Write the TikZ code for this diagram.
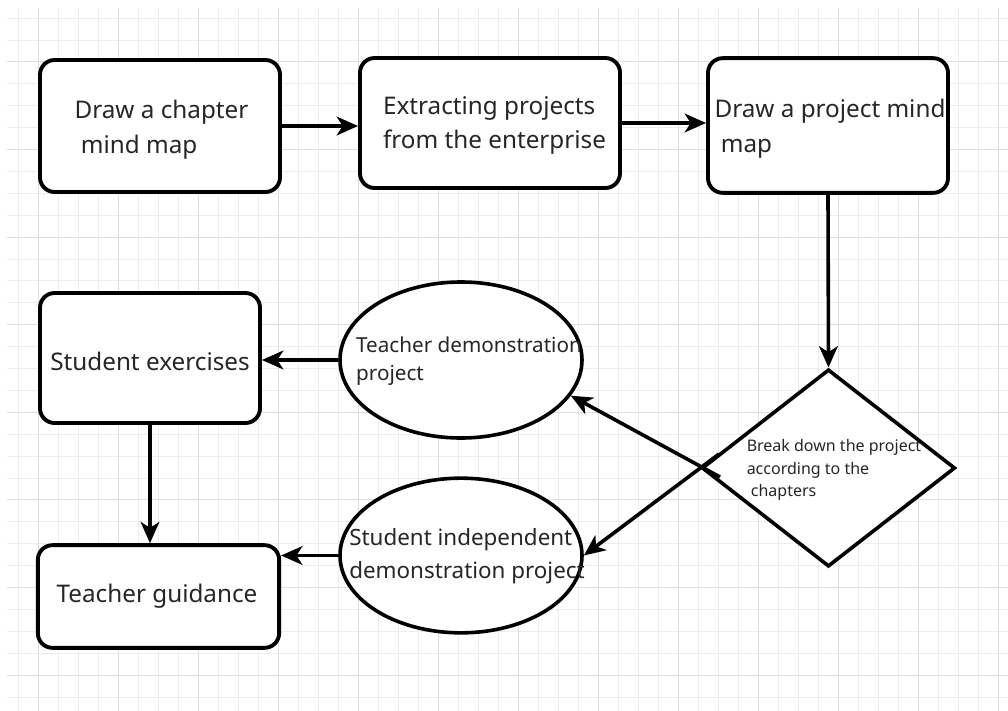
\documentclass[tikz,border=0pt]{standalone}
\usepackage{fontspec}
\setmainfont{Noto Sans}
\usetikzlibrary{shapes.geometric,arrows.meta}

\tikzset{
  gridminor/.style={gray!14, line width=0.75pt},
  gridmajor/.style={gray!26, line width=0.75pt},
  box/.style={draw, line width=2.9pt, rounded corners=11pt, fill=white},
  oval/.style={draw, ellipse, line width=2.7pt, fill=white},
  decision/.style={draw, diamond, line width=2.7pt, fill=white, inner sep=0pt},
  boxtext/.style={align=left, inner sep=0pt, text=black!85, font=\fontsize{18.2}{26}\selectfont},
  ovaltext/.style={align=left, inner sep=0pt, text=black!85, font=\fontsize{15.5}{21.5}\selectfont},
  bigovaltext/.style={ovaltext, font=\fontsize{16.8}{24.5}\selectfont},
  smalltext/.style={align=left, inner sep=0pt, text=black!85, font=\fontsize{12}{17}\selectfont},
  flow/.style={->, line width=2.7pt},
}

\begin{document}
\begin{tikzpicture}[x=0.75pt, y=-0.75pt, >={Stealth[length=16pt,width=14pt,inset=4.5pt]}]

\useasboundingbox[fill=white] (0,0) rectangle (1008,711);

% Background grid
\foreach \gx in {18,38,...,998}
  \draw[gridminor] (\gx,8) -- (\gx,711);
\foreach \k in {0,...,31}
  \draw[gridminor] (7,{18.1+21.9*\k}) -- (1008,{18.1+21.9*\k});
\foreach \gx in {38,118,...,998}
  \draw[gridmajor] (\gx,8) -- (\gx,711);
\foreach \k in {2,6,...,30}
  \draw[gridmajor] (7,{18.1+21.9*\k}) -- (1008,{18.1+21.9*\k});

% Top row
\node[box, minimum width=180pt, minimum height=99pt] (b1) at (160,126) {};
\node[box, minimum width=195pt, minimum height=97.5pt] (b2) at (490,123) {};
\node[box, minimum width=180pt, minimum height=101pt] (b3) at (828,125.5) {};

% Decision and ovals
\node[decision, minimum width=190pt, minimum height=148pt] (d) at (828.5,468) {};
\node[oval, minimum width=181.5pt, minimum height=117pt] (e1) at (461,360) {};
\node[oval, minimum width=181.5pt, minimum height=116pt] (e2) at (461,555.5) {};

% Left column
\node[box, minimum width=165pt, minimum height=97.5pt] (b4) at (150,358) {};
\node[box, minimum width=181pt, minimum height=77pt] (b5) at (158.5,596.5) {};

% Texts
\node[boxtext] (t1) at (161.5,130) {Draw a chapter\\\ mind map};
\node[boxtext] (t2) at (494.5,125.5) {Extracting projects\\from the enterprise};
\node[boxtext] (t3) at (830,128.5) {Draw a project mind\\\ map};
\node[boxtext] (t4) at (150,361) {Student exercises};
\node[boxtext] (t5) at (157,596) {Teacher guidance};
\node[ovaltext] (te1) at (469,361) {Teacher demonstration\\project};
\node[bigovaltext] (te2) at (467,556) {Student independent\\demonstration project};
\node[smalltext] (td) at (834,470) {Break down the project\\according to the\\\ chapters};

% Arrow start points inside the diamond
\coordinate (s1) at (720,477);
\coordinate (s2) at (719,454);

% Arrows
\draw[flow] (b1.east) -- (b1.east -| b2.west);
\draw[flow] (b2.east) -- (b2.east -| b3.west);
\draw[flow] (b3.south) -- (d.north);
\draw[flow] (s1) -- (e1.-18);
\draw[flow] (s2) -- (e2.east);
\draw[flow] (e1.west) -- (e1.west -| b4.east);
\draw[flow] (e2.west) -- (e2.west -| b5.east);
\draw[flow] (b4.south) -- (b4.south |- b5.north);

\end{tikzpicture}
\end{document}
